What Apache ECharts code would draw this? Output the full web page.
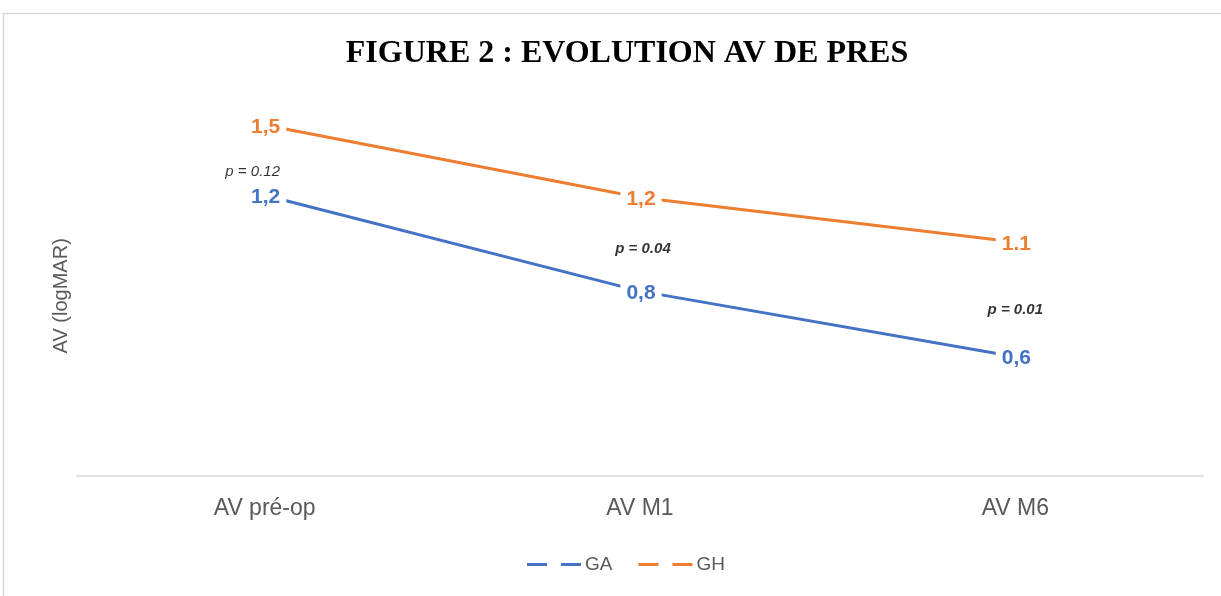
<!DOCTYPE html>
<html><head><meta charset="utf-8">
<script src="https://cdn.jsdelivr.net/npm/echarts@6/dist/echarts.min.js"></script>
<style>html,body{margin:0;padding:0;background:#fff}#c{width:1221px;height:596px}</style>
</head><body><div id="c"></div>
<script>
var categories = ['AV pré-op', 'AV M1', 'AV M6'];
var gaValues = [1.20, 0.79, 0.51];
var ghValues = [1.50, 1.19, 1.00];
var gaLabels = ['1,2', '0,8', '0,6'];
var ghLabels = ['1,5', '1,2', '1.1'];
var pPositions = [1.30, 0.975, 0.72];
var pLabels = ['p = 0.12', 'p = 0.04', 'p = 0.01'];
var pBold = [false, true, true];
var yMin = 0, yMax = 1.6;

var BLUE = '#4472C4', ORANGE = '#ED7D31';
var font = 'Liberation Sans';
var chart = echarts.init(document.getElementById('c'), null, {renderer: 'canvas'});

function lineSeries(name, values, labels, color) {
  return {
    name: name, type: 'line', data: values,
    symbol: 'circle', symbolSize: 1, showSymbol: true,
    itemStyle: {color: color},
    lineStyle: {color: color, width: 3},
    label: {
      show: true, position: 'inside', color: color,
      fontFamily: font, fontWeight: 'bold', fontSize: 21,
      backgroundColor: '#fff', padding: [2, 6], offset: [1, 2],
      formatter: function (p) { return labels[p.dataIndex]; }
    },
    emphasis: {disabled: true}, animation: false, z: 3
  };
}

var pOffsets = [[-12, 0], [3, 1], [0, 2]];

chart.setOption({
  animation: false,
  title: {
    text: 'FIGURE 2 : EVOLUTION AV DE PRES',
    left: 622, top: 33, textAlign: 'center',
    textStyle: {fontFamily: 'Liberation Serif', fontWeight: 'bold', fontSize: 32, color: '#000'}
  },
  graphic: [{
    type: 'rect', silent: true,
    shape: {x: 3.5, y: 13.5, width: 1400, height: 800},
    style: {fill: 'none', stroke: '#d9d9d9', lineWidth: 1.5}
  }],
  legend: {
    bottom: 17, left: 522,
    itemWidth: 54, itemHeight: 3, itemGap: 26,
    icon: 'path://M0,0h20v3H0z M34,0h20v3H34z',
    textStyle: {fontFamily: font, fontSize: 19, color: '#595959', padding: [0, 0, 0, -1]},
    data: ['GA', 'GH']
  },
  grid: {left: 77, right: 18, top: 101.6, bottom: 120, containLabel: false},
  xAxis: {
    type: 'category', data: categories, boundaryGap: true,
    axisLine: {lineStyle: {color: '#d9d9d9', width: 1.5}},
    axisTick: {show: false},
    axisLabel: {fontFamily: font, fontSize: 23, color: '#595959', margin: 21}
  },
  yAxis: {
    type: 'value', min: yMin, max: yMax,
    name: 'AV (logMAR)', nameLocation: 'middle', nameGap: 6, nameRotate: 90,
    nameTextStyle: {fontFamily: font, fontSize: 20, color: '#595959', padding: [0, 14, 0, 0]},
    axisLine: {show: false}, axisTick: {show: false}, axisLabel: {show: false},
    splitLine: {show: false}
  },
  series: [
    lineSeries('GA', gaValues, gaLabels, BLUE),
    lineSeries('GH', ghValues, ghLabels, ORANGE),
    {
      type: 'scatter', symbolSize: 0, silent: true, z: 4,
      data: pPositions.map(function (v, i) {
        return {value: [i, v], label: {fontWeight: pBold[i] ? 'bold' : 'normal', offset: pOffsets[i]}};
      }),
      label: {
        show: true, position: 'inside', color: '#000',
        fontFamily: font, fontStyle: 'italic', fontSize: 15,
        formatter: function (p) { return pLabels[p.dataIndex]; }
      },
      itemStyle: {color: 'transparent'}
    }
  ]
});
</script></body></html>
